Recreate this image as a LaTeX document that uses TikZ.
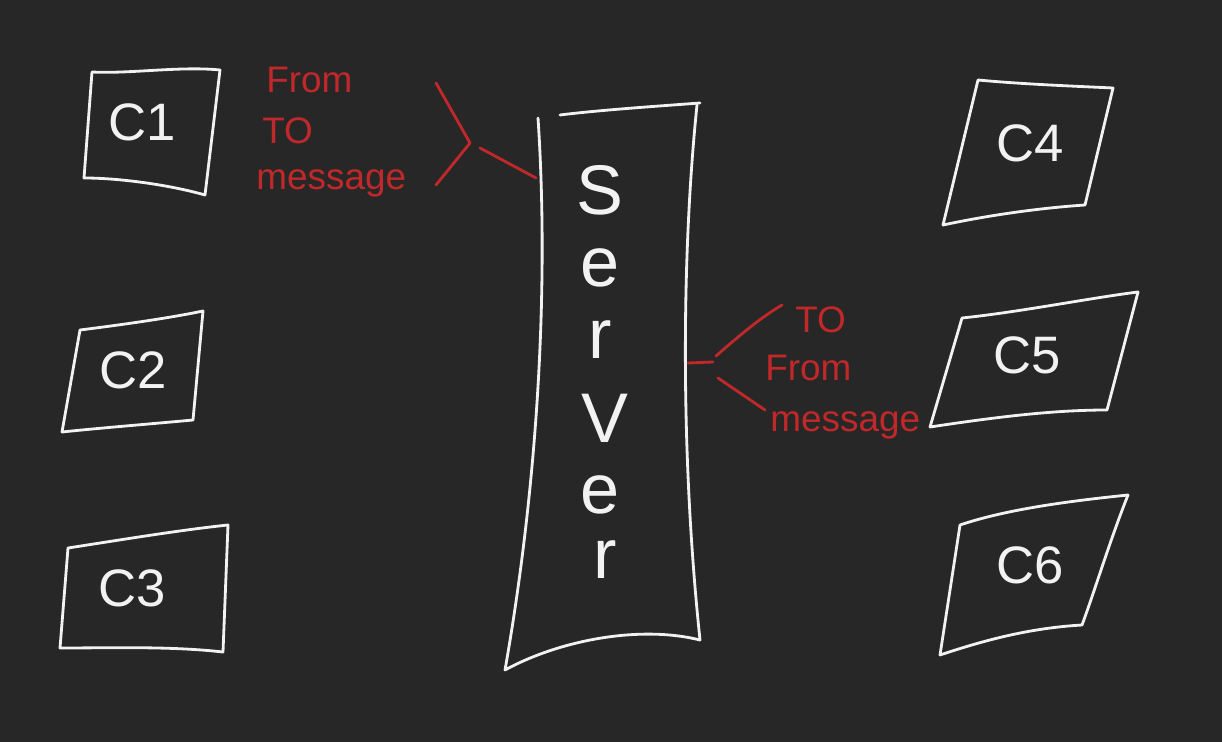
\documentclass[tikz,border=0pt]{standalone}
\usepackage{fontspec}
\setmainfont{Liberation Sans}
\definecolor{bg}{HTML}{272727}
\definecolor{ink}{HTML}{F2F2F2}
\definecolor{redink}{HTML}{C0282A}
\begin{document}
\begin{tikzpicture}[x=0.02cm,y=-0.02cm,
  chalk/.style={draw=ink,line width=1.6pt,line cap=round,line join=round},
  redline/.style={draw=redink,line width=1.6pt,line cap=round,line join=round},
  clabel/.style={text=ink,font=\fontsize{30}{32}\selectfont},
  slabel/.style={text=ink,font=\fontsize{40}{42}\selectfont,inner sep=0pt},
  rlabel/.style={text=redink,font=\fontsize{21}{23}\selectfont,anchor=west,inner sep=0pt}]
\fill[bg] (0,0) rectangle (1222,742);
\useasboundingbox (0,0) rectangle (1222,742);
% clients left
\draw[chalk] (92,72) .. controls (130,74) and (180,66) .. (220,70) -- (205,195) .. controls (170,185) and (120,178) .. (84,178) -- cycle;
\node[clabel] (c1) at (142,122) {C1};
\draw[chalk] (80,330) .. controls (120,325) and (170,318) .. (203,311) -- (193,420) .. controls (150,424) and (100,428) .. (62,432) -- cycle;
\node[clabel] (c2) at (133,370) {C2};
\draw[chalk] (68,548) .. controls (120,540) and (180,530) .. (228,525) -- (223,652) .. controls (170,646) and (110,648) .. (60,648) -- cycle;
\node[clabel] (c3) at (132,588) {C3};
% clients right
\draw[chalk] (978,80) .. controls (1020,84) and (1070,86) .. (1113,88) -- (1085,205) .. controls (1040,208) and (990,215) .. (943,225) -- cycle;
\node[clabel] (c4) at (1030,143) {C4};
\draw[chalk] (962,318) .. controls (1020,312) and (1090,298) .. (1138,292) -- (1107,410) .. controls (1050,410) and (990,418) .. (930,427) -- cycle;
\node[clabel] (c5) at (1027,355) {C5};
\draw[chalk] (960,525) .. controls (1010,508) and (1080,500) .. (1128,495) .. controls (1110,540) and (1095,590) .. (1082,625) .. controls (1030,628) and (985,640) .. (940,655) -- cycle;
\node[clabel] (c6) at (1030,565) {C6};
% server
\draw[chalk] (560,115) .. controls (600,110) and (660,106) .. (700,103);
\draw[chalk] (538,118) .. controls (550,300) and (535,500) .. (505,670) .. controls (560,640) and (640,625) .. (700,640) .. controls (680,450) and (682,250) .. (697,105);
\node[slabel] (s1) at (600,190) {S};
\node[slabel] (s2) at (600,268) {e};
\node[slabel] (s3) at (600,340) {r};
\node[slabel] (s4) at (605,418) {V};
\node[slabel] (s5) at (600,495) {e};
\node[slabel] (s6) at (605,560) {r};
% left message labels
\node[rlabel] (lfrom) at (266,80) {From};
\node[rlabel] (lto) at (262,131) {TO};
\node[rlabel] (lmsg) at (256,183) {message};
\coordinate (lb1) at (436,83);
\coordinate (lb2) at (470,143);
\coordinate (lb3) at (436,185);
\draw[redline] (lb1) -- (lb2) -- (lb3);
\coordinate (ll1) at (480,148);
\coordinate (ll2) at (536,178);
\draw[redline] (ll1) -- (ll2);
% right message labels
\node[rlabel] (rto) at (795,320) {TO};
\node[rlabel] (rfrom) at (765,368) {From};
\node[rlabel] (rmsg) at (770,425) {message};
\coordinate (rs1) at (688,363);
\coordinate (rs2) at (713,362);
\draw[redline] (rs1) -- (rs2);
\coordinate (ru1) at (716,356);
\coordinate (ru2) at (782,305);
\draw[redline] (ru1) .. controls (740,335) and (760,318) .. (ru2);
\coordinate (rd1) at (718,378);
\coordinate (rd2) at (765,410);
\draw[redline] (rd1) -- (rd2);
\end{tikzpicture}
\end{document}
